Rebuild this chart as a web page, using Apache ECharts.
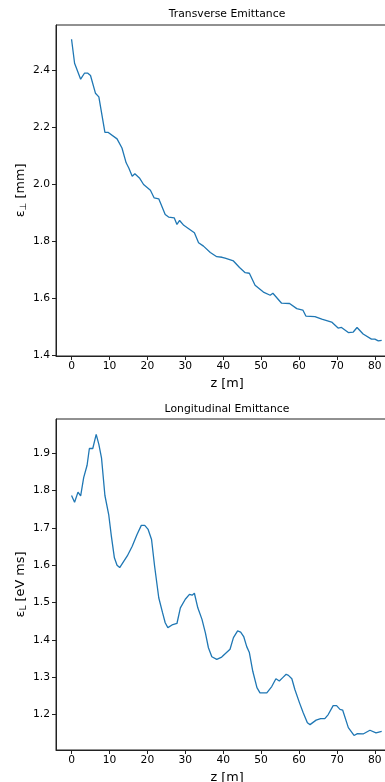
<!DOCTYPE html>
<html>
<head>
<meta charset="utf-8">
<script src="https://cdn.jsdelivr.net/npm/echarts@6/dist/echarts.min.js"></script>
<style>html,body{margin:0;padding:0;background:#fff;}#c{width:385px;height:782px;}</style>
</head>
<body>
<div id="c"></div>
<script>
// Transverse emittance vs z
const zT = [0,0.8,2.4,3.4,4.3,5,6.3,7.2,8.8,9.6,12.0,13.3,14.4,15.1,16.0,16.7,17.9,19.0,20.8,21.8,23,24.7,25.6,27.1,27.8,28.5,29.6,30.9,32.4,33.5,34.8,36.6,38.3,39.7,40.5,42.7,44.3,45.8,46.9,48.4,50.6,52.4,53.1,55.4,57.5,59.4,61.0,61.8,64.2,66.0,68.6,70.3,71.2,73.0,74.3,75.3,76.9,79.1,80.0,80.9,81.8];
const eT = [2.507,2.423,2.367,2.388,2.388,2.38,2.318,2.305,2.181,2.181,2.158,2.126,2.074,2.056,2.027,2.036,2.021,1.998,1.978,1.951,1.948,1.893,1.884,1.881,1.858,1.872,1.855,1.843,1.829,1.794,1.782,1.76,1.745,1.743,1.74,1.73,1.707,1.689,1.687,1.645,1.621,1.61,1.617,1.582,1.581,1.563,1.558,1.537,1.535,1.526,1.516,1.495,1.497,1.479,1.481,1.497,1.474,1.456,1.456,1.45,1.452];
// Longitudinal emittance vs z
const zL = [0,0.8,1.7,2.4,3.2,4.1,4.7,5.6,6.5,7.2,7.9,8.8,9.8,10.5,11.3,12.0,12.7,13.8,14.7,16.0,17.3,18.4,19.3,20.2,21.1,21.9,23.0,24.0,24.7,25.4,26.5,27.8,28.7,30.0,31.1,31.8,32.4,33.3,34.4,35.3,36.1,37.0,38.3,38.8,39.6,41.8,42.7,43.8,44.6,45.4,46.2,46.9,47.8,48.9,49.7,51.5,52.8,53.9,54.8,55.7,56.6,57.2,58.1,58.9,60.1,61.1,62.2,62.9,64.5,65.7,66.8,67.7,69.0,69.9,70.8,71.5,73.0,74.5,75.4,76.9,78.7,80.3,81.8];
const eL = [1.787,1.769,1.796,1.786,1.835,1.868,1.913,1.913,1.951,1.924,1.888,1.787,1.736,1.678,1.620,1.600,1.594,1.611,1.625,1.651,1.683,1.707,1.707,1.696,1.669,1.598,1.513,1.473,1.446,1.433,1.440,1.444,1.486,1.509,1.522,1.520,1.525,1.486,1.455,1.419,1.379,1.355,1.348,1.345,1.354,1.375,1.406,1.424,1.421,1.409,1.382,1.366,1.316,1.272,1.258,1.258,1.275,1.296,1.290,1.299,1.308,1.305,1.296,1.267,1.232,1.205,1.178,1.173,1.185,1.189,1.189,1.200,1.224,1.224,1.214,1.212,1.165,1.144,1.149,1.148,1.158,1.151,1.155];
// Tick labels
const xTicks = [0,10,20,30,40,50,60,70,80];
const yTicksT = [1.4,1.6,1.8,2.0,2.2,2.4];
const yTicksL = [1.2,1.3,1.4,1.5,1.6,1.7,1.8,1.9];

const FONT = 'DejaVu Sans';
const AX = '#222';
function xAxis(gi) {
  return {
    type: 'value', gridIndex: gi, min: -4.1, max: 86.1,
    name: 'z [m]', nameLocation: 'middle', nameGap: 21, nameMoveOverlap: false,
    nameTextStyle: {fontFamily: FONT, fontSize: 12.8, color: '#000'},
    axisLine: {show: true, onZero: false, lineStyle: {color: AX, width: 1}},
    axisTick: {show: true, inside: false, length: 4, customValues: xTicks, lineStyle: {color: AX}},
    axisLabel: {show: true, customValues: xTicks, margin: 5, fontFamily: FONT, fontSize: 10.7, color: '#000'},
    splitLine: {show: false}
  };
}
function yAxis(gi, mn, mx, ticks, name) {
  return {
    type: 'value', gridIndex: gi, min: mn, max: mx,
    name: name, nameLocation: 'middle', nameGap: 28, nameRotate: 90, nameMoveOverlap: false,
    nameTextStyle: {fontFamily: FONT, fontSize: 12.8, color: '#000',
      rich: {
        n: {fontFamily: FONT, fontSize: 12.8, color: '#000'},
        s: {fontFamily: FONT, fontSize: 9, color: '#000', padding: [5, 0, 0, 0]}
      }},
    axisLine: {show: true, onZero: false, lineStyle: {color: AX, width: 1}},
    axisTick: {show: true, inside: false, length: 4, customValues: ticks, lineStyle: {color: AX}},
    axisLabel: {show: true, customValues: ticks, margin: 6, fontFamily: FONT, fontSize: 10.7, color: '#000',
      formatter: v => v.toFixed(1)},
    splitLine: {show: false}
  };
}
const chart = echarts.init(document.getElementById('c'), null, {renderer: 'canvas'});
chart.setOption({
  animation: false,
  backgroundColor: '#fff',
  title: [
    {text: 'Transverse Emittance', left: 227, top: 9, padding: 0, textAlign: 'center',
     textStyle: {fontFamily: FONT, fontSize: 10.8, fontWeight: 'normal', color: '#000'}},
    {text: 'Longitudinal Emittance', left: 227, top: 404, padding: 0, textAlign: 'center',
     textStyle: {fontFamily: FONT, fontSize: 10.8, fontWeight: 'normal', color: '#000'}}
  ],
  grid: [
    {left: 56, top: 25, width: 342, height: 331, outerBoundsMode: 'none', containLabel: false,
     show: true, borderColor: AX, borderWidth: 1, backgroundColor: 'transparent'},
    {left: 56, top: 419, width: 342, height: 331, outerBoundsMode: 'none', containLabel: false,
     show: true, borderColor: AX, borderWidth: 1, backgroundColor: 'transparent'}
  ],
  xAxis: [xAxis(0), xAxis(1)],
  yAxis: [
    yAxis(0, 1.397, 2.557, yTicksT, '{n|ε}{s|⊥}{n| [mm]}'),
    yAxis(1, 1.105, 1.992, yTicksL, '{n|ε}{s|L}{n| [eV ms]}')
  ],
  series: [
    {type: 'line', xAxisIndex: 0, yAxisIndex: 0, data: zT.map((z, i) => [z, eT[i]]),
     showSymbol: false, lineStyle: {color: '#1f77b4', width: 1.3}, clip: true},
    {type: 'line', xAxisIndex: 1, yAxisIndex: 1, data: zL.map((z, i) => [z, eL[i]]),
     showSymbol: false, lineStyle: {color: '#1f77b4', width: 1.3}, clip: true}
  ]
});
</script>
</body>
</html>
